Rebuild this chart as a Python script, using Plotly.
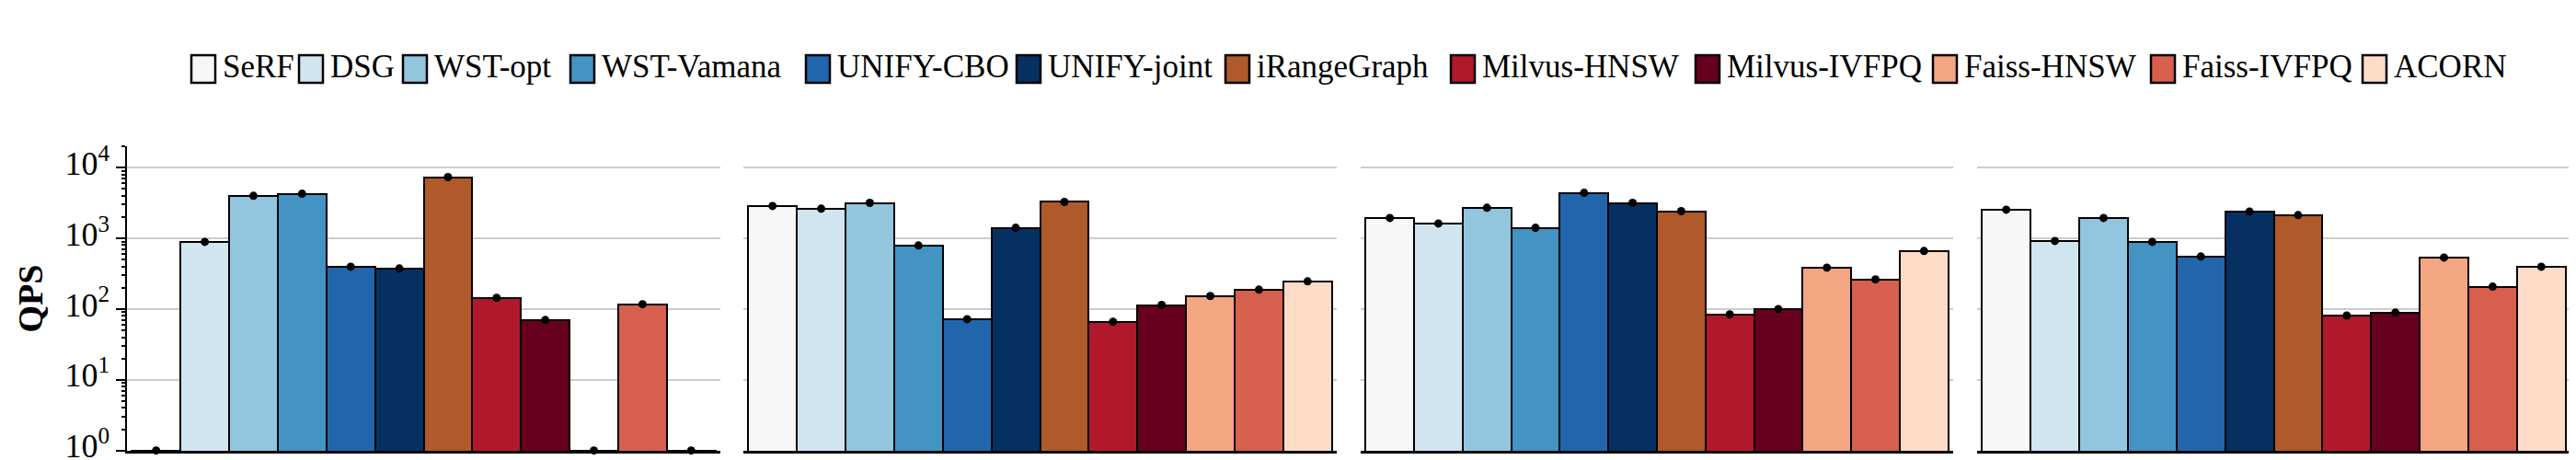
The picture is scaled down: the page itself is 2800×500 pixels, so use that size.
import math
import plotly.graph_objects as go

# ---------------- data ----------------
methods = ["SeRF", "DSG", "WST-opt", "WST-Vamana", "UNIFY-CBO", "UNIFY-joint",
           "iRangeGraph", "Milvus-HNSW", "Milvus-IVFPQ", "Faiss-HNSW", "Faiss-IVFPQ", "ACORN"]
colors = ["#f7f7f7", "#d1e5f0", "#92c5de", "#4393c3", "#2166ac", "#073062",
          "#b0592a", "#b2182b", "#67001f", "#f4a582", "#d6604d", "#fddbc7"]

qps_panel1 = [1, 891, 3990, 4270, 397, 374, 7330, 144, 70, 1, 117, 1]
qps_panel2 = [2865, 2620, 3170, 791, 72, 1410, 3270, 66, 114, 153, 188, 246]
qps_panel3 = [1940, 1620, 2700, 1410, 4400, 3170, 2420, 84, 100, 385, 263, 661]
qps_panel4 = [2540, 918, 1940, 891, 552, 2390, 2125, 81, 89, 535, 207, 397]
panels = [qps_panel1, qps_panel2, qps_panel3, qps_panel4]

ytick_vals = [1, 10, 100, 1000, 10000]
ytick_text = ["10<sup>0</sup>", "10<sup>1</sup>", "10<sup>2</sup>", "10<sup>3</sup>", "10<sup>4</sup>"]
y_label = "QPS"

# ---------------- layout geometry ----------------
W, H = 2800, 500
ML, MR, MT, MB = 130, 14, 151, 18
PW, PH = W - ML - MR, H - MT - MB
panel_px = [(130, 775), (800, 1445), (1471, 2115), (2141, 2786)]
legend_box_left = [200, 317, 430, 612, 868, 1097, 1324, 1569, 1835, 2093, 2330, 2560]
FONT = "Liberation Serif"


def px2x(x):
    return (x - ML) / PW


def px2y(y):
    return (H - MB - y) / PH


fig = go.Figure()

for i, vals in enumerate(panels):
    sfx = "" if i == 0 else str(i + 1)
    fig.add_trace(go.Bar(
        x=methods, y=vals, xaxis="x" + sfx, yaxis="y" + sfx,
        marker=dict(color=colors, line=dict(color="black", width=2)),
        width=1.0, showlegend=False, hoverinfo="x+y"))
    fig.add_trace(go.Scatter(
        x=methods, y=vals, xaxis="x" + sfx, yaxis="y" + sfx, mode="markers",
        marker=dict(color="black", size=9, symbol="circle"),
        cliponaxis=False, showlegend=False, hoverinfo="skip"))

yrange = [-0.004, math.log10(2e4)]
layout = dict(
    width=W, height=H, margin=dict(l=ML, r=MR, t=MT, b=MB, autoexpand=False),
    paper_bgcolor="white", plot_bgcolor="white",
    font=dict(family=FONT, color="black", size=35),
    showlegend=False, bargap=0,
)
for i, (a, b) in enumerate(panel_px):
    sfx = "" if i == 0 else str(i + 1)
    layout["xaxis" + sfx] = dict(
        domain=[px2x(a), min(1.0, px2x(b))], anchor="y" + sfx,
        type="category", categoryorder="array", categoryarray=methods,
        range=[-0.6, 11.6], showticklabels=False, ticks="", automargin=False,
        showline=True, linecolor="black", linewidth=2.5, showgrid=False,
        zeroline=False, fixedrange=True)
    ax = dict(
        domain=[0, 1], anchor="x" + sfx, type="log", range=yrange,
        tickvals=ytick_vals, ticktext=ytick_text, automargin=False,
        showgrid=True, gridcolor="#cccccc", gridwidth=1.5, zeroline=False,
        fixedrange=True)
    if i == 0:
        ax.update(showline=True, linecolor="black", linewidth=1.5,
                  ticks="outside", ticklen=10, tickwidth=1.5, tickcolor="black",
                  ticklabeloverflow="allow", ticklabelshift=-5,
                  tickfont=dict(family=FONT, size=36, color="black"),
                  minor=dict(ticks="outside", ticklen=4, tickwidth=1.5,
                             tickcolor="black", dtick="D1", showgrid=False),
                  title=dict(text="<b>" + y_label + "</b>", standoff=12,
                             font=dict(family=FONT, size=38, color="black")))
    else:
        ax.update(showline=False, ticks="", showticklabels=False, matches="y")
    layout["yaxis" + sfx] = ax

shapes, annotations = [], []
for name, col, bx in zip(methods, colors, legend_box_left):
    shapes.append(dict(type="rect", xref="paper", yref="paper",
                       x0=px2x(bx), x1=px2x(bx + 26), y0=px2y(82), y1=px2y(52),
                       fillcolor=col, line=dict(color="black", width=2.5)))
    annotations.append(dict(text=name, xref="paper", yref="paper",
                            x=px2x(bx + 32), y=px2y(65), xanchor="left", yanchor="middle",
                            showarrow=False, font=dict(family=FONT, size=35, color="black")))
layout["shapes"] = shapes
layout["annotations"] = annotations

fig.update_layout(**layout)
fig.write_html("out.html")
